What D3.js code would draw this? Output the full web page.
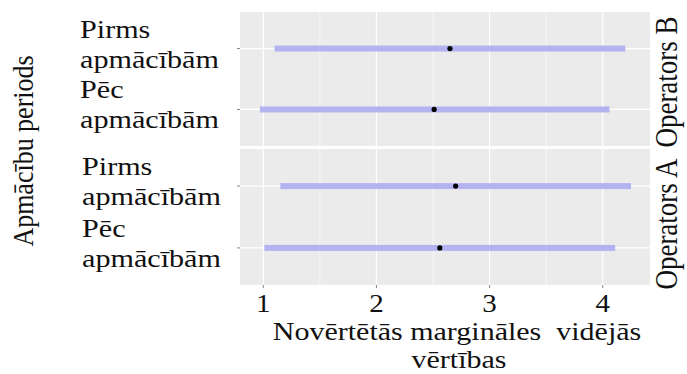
<!DOCTYPE html>
<html><head><meta charset="utf-8">
<script src="https://cdn.jsdelivr.net/npm/d3@7"></script>
<style>body{margin:0;background:#fff}svg{display:block}</style>
</head><body><svg id="c" width="687" height="374"></svg>
<script>
const facets = ["Operators B", "Operators A"];
const periods = ["Pirms apmācībām", "Pēc apmācībām"];
const lowerVals = [[1.10, 0.97], [1.15, 1.01]];
const upperVals = [[4.20, 4.06], [4.25, 4.11]];
const meanVals = [[2.65, 2.51], [2.70, 2.56]];
const xTicks = [1, 2, 3, 4];
const xMinor = [1.5, 2.5, 3.5];
const xTitle = ["Novērtētās margināles  vidējās", "vērtības"];
const yTitle = "Apmācību periods";

const FONT = "Liberation Serif";
const svg = d3.select("#c");
const SX = 1.16, FS = 26;
const x = d3.scaleLinear().domain([0.794, 4.418]).range([240, 650]);
const panels = [{top: 12, bottom: 146, labelX: 80, stripY: 82}, {top: 149, bottom: 285, labelX: 82, stripY: 224}];

function stext(px, py, str, anchor, rot, fs, sx) {
  return svg.append("text")
    .attr("transform", `translate(${px},${py}) scale(${sx || SX},1)` + (rot ? ` rotate(${rot})` : ""))
    .attr("font-family", FONT).attr("fill", "#111")
    .attr("text-anchor", anchor).attr("font-size", fs || FS).text(str);
}

panels.forEach((p, fi) => {
  const y = d3.scalePoint().domain(periods).range([p.top, p.bottom]).padding(0.6);
  const g = svg.append("g");
  g.append("rect").attr("x", 240).attr("y", p.top).attr("width", 410).attr("height", p.bottom - p.top).attr("fill", "#EBEBEB");
  g.selectAll(".mn").data(xMinor).join("line").attr("x1", d => x(d)).attr("x2", d => x(d))
    .attr("y1", p.top).attr("y2", p.bottom).attr("stroke", "#fff").attr("stroke-width", 0.6);
  g.selectAll(".mj").data(xTicks).join("line").attr("x1", d => x(d)).attr("x2", d => x(d))
    .attr("y1", p.top).attr("y2", p.bottom).attr("stroke", "#fff").attr("stroke-width", 1.2);
  g.selectAll(".hy").data(periods).join("line").attr("x1", 240).attr("x2", 650)
    .attr("y1", d => y(d)).attr("y2", d => y(d)).attr("stroke", "#fff").attr("stroke-width", 1.2);
  g.selectAll(".bar").data(periods).join("rect")
    .attr("x", (d, i) => x(lowerVals[fi][i])).attr("width", (d, i) => x(upperVals[fi][i]) - x(lowerVals[fi][i]))
    .attr("y", d => y(d) - 3).attr("height", 6).attr("fill", "#B3B3F2");
  g.selectAll(".pt").data(periods).join("circle")
    .attr("cx", (d, i) => x(meanVals[fi][i])).attr("cy", d => y(d)).attr("r", 2.6).attr("fill", "#000");
  g.selectAll(".yt").data(periods).join("line").attr("x1", 237).attr("x2", 240)
    .attr("y1", d => y(d)).attr("y2", d => y(d)).attr("stroke", "#666").attr("stroke-width", 0.8);
  periods.forEach(per => {
    const parts = per.split(" ");
    const t = stext(p.labelX, y(per) - 11, "", "start");
    parts.forEach((s, k) => t.append("tspan").attr("x", 0).attr("dy", k ? 30 : 0).text(s));
  });
  stext(677, p.stripY, facets[fi], "middle", -90, 27);
});

svg.append("g").selectAll("line").data(xTicks).join("line").attr("x1", d => x(d)).attr("x2", d => x(d))
  .attr("y1", 285).attr("y2", 288).attr("stroke", "#666").attr("stroke-width", 0.8);
xTicks.forEach(t => stext(x(t), 312, String(t), "middle", 0, 25));
stext(457, 340, xTitle[0], "middle", 0, 25, 1.2).attr("xml:space", "preserve").style("white-space", "pre");
stext(459, 368, xTitle[1], "middle", 0, 25, 1.2);
stext(33, 151, yTitle, "middle", -90, 26);
</script></body></html>
